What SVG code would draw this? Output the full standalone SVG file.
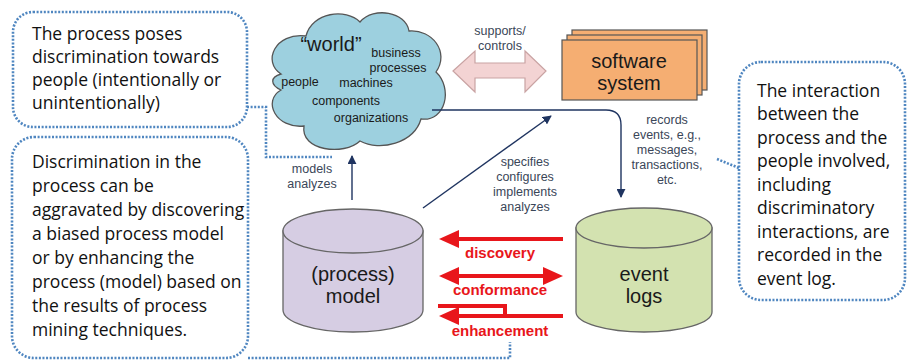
<svg xmlns="http://www.w3.org/2000/svg" width="907" height="362" viewBox="0 0 907 362">
<style>
.callout{fill:#fff;stroke:#4f86c0;stroke-width:2.6;stroke-dasharray:2 1.6}
.dot{fill:none;stroke:#4f86c0;stroke-width:2.6;stroke-dasharray:2 1.6}
.ct{font-family:"Open Sans","Noto Sans",sans-serif;font-size:17.5px;fill:#111}
.lbl{font-family:"Liberation Sans",Arial,sans-serif;font-size:12.5px;fill:#3a4658;text-anchor:middle}
.cl{font-family:"Liberation Sans",Arial,sans-serif;font-size:12.5px;fill:#1a1a1a;text-anchor:middle}
.big{font-family:"Liberation Sans",Arial,sans-serif;font-size:20px;fill:#1a1a1a;text-anchor:middle}
.red{font-family:"Liberation Sans",Arial,sans-serif;font-size:15px;font-weight:bold;fill:#e8161b;text-anchor:middle}
.nav{fill:none;stroke:#1f3460;stroke-width:1.4}
.rl{fill:none;stroke:#e8161b;stroke-width:4}
.cyl{stroke:#666;stroke-width:1.3}
</style>
<defs>
<marker id="nh" viewBox="0 0 10 10" refX="9" refY="5" markerWidth="9" markerHeight="9" markerUnits="userSpaceOnUse" orient="auto">
<path d="M0,0 L10,5 L0,10 Z" fill="#1f3460"/>
</marker>
</defs>

<g id="callout-top-left">
<rect class="callout" x="13" y="12" width="234" height="115" rx="20"/>
<text class="ct" x="32" y="40">The process poses</text>
<text class="ct" x="32" y="63">discrimination towards</text>
<text class="ct" x="32" y="86">people (intentionally or</text>
<text class="ct" x="32" y="109">unintentionally)</text>
</g>

<g id="callout-bottom-left">
<rect class="callout" x="12" y="137" width="236" height="221" rx="22"/>
<text class="ct" x="32" y="168">Discrimination in the</text>
<text class="ct" x="32" y="192">process can be</text>
<text class="ct" x="32" y="216">aggravated by discovering</text>
<text class="ct" x="32" y="240">a biased process model</text>
<text class="ct" x="32" y="264">or by enhancing the</text>
<text class="ct" x="32" y="288">process (model) based on</text>
<text class="ct" x="32" y="312">the results of process</text>
<text class="ct" x="32" y="336">mining techniques.</text>
</g>

<g id="callout-right">
<rect class="callout" x="739" y="62" width="166" height="238" rx="22"/>
<text class="ct" x="757" y="97">The interaction</text>
<text class="ct" x="757" y="120">between the</text>
<text class="ct" x="757" y="144">process and the</text>
<text class="ct" x="757" y="167">people involved,</text>
<text class="ct" x="757" y="191">including</text>
<text class="ct" x="757" y="214">discriminatory</text>
<text class="ct" x="757" y="238">interactions, are</text>
<text class="ct" x="757" y="261">recorded in the</text>
<text class="ct" x="757" y="285">event log.</text>
</g>

<g id="world">
<path d="M281,74 C262,62 275,32 306,36 C312,12 346,8 360,22 C374,6 406,12 409,31 C432,29 450,52 436,72 C453,88 446,122 421,119 C414,143 380,152 360,141 C344,156 300,151 304,126 C276,129 262,101 281,90 C270,85 270,77 281,74 Z" fill="#9dd0df" stroke="#555" stroke-width="1.3"/>
<text class="big" x="331" y="51">“world”</text>
<text class="cl" x="396" y="57">business</text>
<text class="cl" x="398" y="72">processes</text>
<text class="cl" x="300" y="86">people</text>
<text class="cl" x="366" y="87">machines</text>
<text class="cl" x="346" y="105">components</text>
<text class="cl" x="371" y="122">organizations</text>
</g>

<g id="software-system">
<rect x="572" y="30" width="135" height="60" fill="#f5ae72" stroke="#555" stroke-width="1.2"/>
<rect x="567" y="35" width="135" height="60" fill="#f5ae72" stroke="#555" stroke-width="1.2"/>
<rect x="562" y="40" width="135" height="60" fill="#f5ae72" stroke="#555" stroke-width="1.2"/>
<text class="big" x="629" y="68">software</text>
<text class="big" x="629" y="90">system</text>
</g>

<g id="process-model">
<path class="cyl" d="M283,231 V310 A70,22 0 0 0 423,310 V231 Z" fill="#d6cde3"/>
<ellipse class="cyl" cx="353" cy="231" rx="70" ry="22" fill="#d6cde3"/>
<text class="big" x="353" y="281">(process)</text>
<text class="big" x="353" y="303">model</text>
</g>

<g id="event-logs">
<path class="cyl" d="M576,228 V312 A68,20 0 0 0 712,312 V228 Z" fill="#d3e2b0"/>
<ellipse class="cyl" cx="644" cy="228" rx="68" ry="20" fill="#d3e2b0"/>
<text class="big" x="644" y="281">event</text>
<text class="big" x="644" y="303">logs</text>
</g>

<g id="connectors">
<path d="M453,71 L475,51 V63 H525 V51 L546,71 L525,92 V78 H475 V92 Z" fill="#f3d3d3" stroke="#c9a3a3" stroke-width="1.2"/>
<text class="lbl" x="500" y="35">supports/</text>
<text class="lbl" x="500" y="50">controls</text>

<path class="nav" d="M432,110 H606 Q621,110 621,125 V197" marker-end="url(#nh)"/>
<text class="lbl" x="667" y="124">records</text>
<text class="lbl" x="667" y="139">events, e.g.,</text>
<text class="lbl" x="667" y="154">messages,</text>
<text class="lbl" x="667" y="169">transactions,</text>
<text class="lbl" x="667" y="184">etc.</text>

<path class="nav" d="M423,208 L551,116" marker-end="url(#nh)"/>
<text class="lbl" x="525" y="166">specifies</text>
<text class="lbl" x="525" y="181">configures</text>
<text class="lbl" x="525" y="196">implements</text>
<text class="lbl" x="525" y="211">analyzes</text>

<path class="nav" d="M352,200 V156" marker-end="url(#nh)"/>
<text class="lbl" x="312" y="173">models</text>
<text class="lbl" x="312" y="188">analyzes</text>

<path class="rl" d="M563,239 H455"/>
<path d="M439,239 L459,230 L459,248 Z" fill="#e8161b"/>
<text class="red" x="500" y="258">discovery</text>

<path class="rl" d="M455,276 H547"/>
<path d="M439,276 L459,267 L459,285 Z" fill="#e8161b"/>
<path d="M563,276 L543,267 L543,285 Z" fill="#e8161b"/>
<text class="red" x="500" y="295">conformance</text>

<path class="rl" d="M438,306 H505 V316" stroke-width="3"/>
<path class="rl" d="M563,316 H455"/>
<path d="M439,316 L459,307 L459,325 Z" fill="#e8161b"/>
<text class="red" x="500" y="336">enhancement</text>

<path class="dot" d="M247,107 H266 V157 H332"/>
<path class="dot" d="M248,358 H510 V342"/>
<path class="dot" d="M717,159 L739,168"/>
</g>
</svg>
